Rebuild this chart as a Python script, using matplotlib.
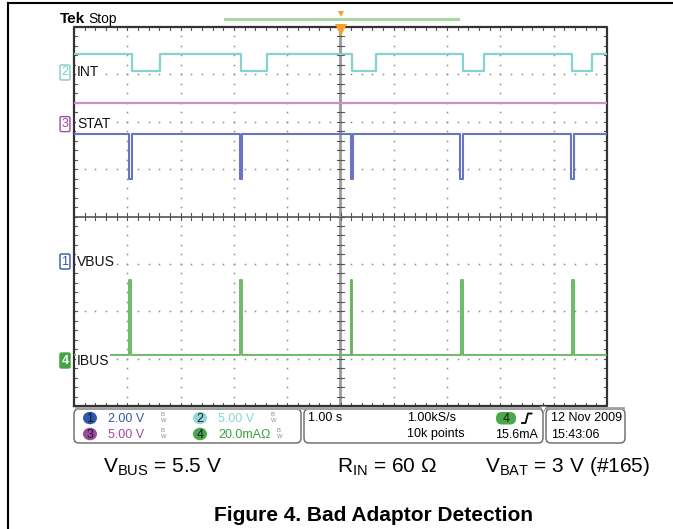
import numpy as np
import matplotlib
matplotlib.use('Agg')
import matplotlib.pyplot as plt
from matplotlib.patches import FancyBboxPatch, Ellipse
from matplotlib import font_manager

names = {f.name for f in font_manager.fontManager.ttflist}
scope_font = 'Liberation Sans Narrow' if 'Liberation Sans Narrow' in names else 'Liberation Sans'
plt.rcParams['font.family'] = ['Liberation Sans', 'DejaVu Sans']

# time axis: 1 s/div, 10 div, trigger at centre
t_start, t_end = -5.0, 5.0

# ch2 INT (screen divisions)
int_fall = [-3.92, -1.87, 0.22, 2.29, 4.35]
int_rise = [-3.38, -1.37, 0.67, 2.69, 4.72]
int_high, int_low = 7.44, 7.07

# ch3 STAT
stat_level = 6.40

# ch1 VBUS
vbus_dip = [-3.96, -1.89, 0.19, 2.25, 4.33]
vbus_dip_w = 0.05
vbus_high, vbus_low = 5.74, 4.79

# ch4 IBUS
ibus_spike = [-3.96, -1.89, 0.19, 2.26, 4.34]
ibus_spike_w = 0.035
ibus_base, ibus_peak = 1.07, 2.66

# channel ground markers (divisions) and labels
ch_ids = ['2', '3', '1', '4']
ch_names = ['INT', 'STAT', 'VBUS', 'IBUS']
ch_ground = [7.04, 5.95, 3.05, 0.96]

# info panel
ch_scale = ['2.00 V', '5.00 V', '5.00 V', '20.0mAΩ']
timebase = '1.00 s'
sample_rate = '1.00kS/s'
rec_len = '10k points'
trig_level = '15.6mA'
date_str = '12 Nov 2009'
time_str = '15:43:06'

C1, C2, C3, C4 = '#6a74c4', '#86d2d2', '#c890c8', '#62b45a'
ch_col = {'1': '#2f56a6', '2': '#7fcccc', '3': '#a04ca0', '4': '#45a445'}


def pulse(starts, ends, hi, lo):
    t, y = [t_start], [hi]
    for a, b in zip(starts, ends):
        t += [a, a, b, b]
        y += [hi, lo, lo, hi]
    t.append(t_end)
    y.append(hi)
    return t, y


fig = plt.figure(figsize=(6.73, 5.29), dpi=100)

# scope screen
ax = fig.add_axes([74 / 673, 1 - 406 / 529, 533 / 673, 379 / 529])
ax.set_xlim(t_start, t_end)
ax.set_ylim(0, 8)
ax.axis('off')

minor = np.arange(-5, 5.001, 0.2)
minor_y = np.arange(0, 8.001, 0.2)
for yy in range(1, 8):
    if yy != 4:
        ax.plot(minor, np.full_like(minor, yy), ls='none', marker='s', ms=1.1,
                color='#8a8a8a', mew=0)
for xx in range(-4, 5):
    if xx != 0:
        ax.plot(np.full_like(minor_y, xx), minor_y, ls='none', marker='s', ms=1.1,
                color='#8a8a8a', mew=0)
ax.axhline(4, color='#555555', lw=1.2)
ax.axvline(0, color='#a0a0a0', lw=2.2)
for m in minor:
    ax.plot([m, m], [3.93, 4.07], color='#555555', lw=0.8)
    ax.plot([m, m], [0, 0.07], color='#555555', lw=0.8)
    ax.plot([m, m], [7.93, 8], color='#555555', lw=0.8)
for m in minor_y:
    ax.plot([-0.07, 0.07], [m, m], color='#555555', lw=0.8)
    ax.plot([-5, -4.94], [m, m], color='#555555', lw=0.8)
    ax.plot([4.94, 5], [m, m], color='#555555', lw=0.8)
ax.plot([-5, 5, 5, -5, -5], [0, 0, 8, 8, 0], color='#333333', lw=1.6, clip_on=False)

t, y = pulse(int_fall, int_rise, int_high, int_low)
ax.plot(t, y, color=C2, lw=1.6)
ax.plot([t_start, t_end], [stat_level, stat_level], color=C3, lw=1.6)
t, y = pulse(vbus_dip, [d + vbus_dip_w for d in vbus_dip], vbus_high, vbus_low)
ax.plot(t, y, color=C1, lw=1.5)
t, y = pulse(ibus_spike, [s + ibus_spike_w for s in ibus_spike], ibus_base, ibus_peak)
ax.plot(t, y, color=C4, lw=1.3)

# overlay in pixel coordinates
ov = fig.add_axes([0, 0, 1, 1])
ov.set_xlim(0, 673)
ov.set_ylim(529, 0)
ov.axis('off')
ov.patch.set_visible(False)

ov.plot([8, 673], [3, 3], color='black', lw=1.5)
ov.plot([8, 8], [3, 529], color='black', lw=1.5)

ov.text(60, 19, 'Tek', family=scope_font, weight='bold', fontsize=11, va='center')
ov.text(88, 19.5, 'Stop', family=scope_font, fontsize=10, va='center')
ov.plot([225, 458], [19, 19], color='#a8d8a0', lw=2.2)
ov.plot(341, 14, marker='v', ms=5, color='#f5a030', mew=0)
ov.plot(341, 29.5, marker='v', ms=8, color='#f5a030', mew=0)
ov.plot([76, 623], [407.5, 407.5], color='#a0a0a0', lw=2)
ov.plot(543, 409, marker='v', ms=5, color='white', mec='#888888', mew=0.6)

for cid, nm, g in zip(ch_ids, ch_names, ch_ground):
    py = 27 + (8 - g) * 379 / 8
    col = ch_col[cid]
    if cid == '4':
        ov.text(65, py, cid, ha='center', va='center', fontsize=9, family=scope_font,
                color='white', weight='bold',
                bbox=dict(boxstyle='round,pad=0.12', fc=col, ec=col, lw=1))
    else:
        ov.text(65, py, cid, ha='center', va='center', fontsize=9, family=scope_font,
                color=col,
                bbox=dict(boxstyle='round,pad=0.12', fc='white', ec=col, lw=1))
    ov.text(77, py, nm, ha='left', va='center', fontsize=10, family=scope_font,
            color='#111111',
            bbox=dict(boxstyle='square,pad=0.05', fc='white', ec='none'))

# info panel boxes
for x0, x1 in [(74, 301), (304, 543), (546, 625)]:
    ov.add_patch(FancyBboxPatch((x0, 409), x1 - x0, 34,
                                boxstyle='round,pad=0,rounding_size=5',
                                fc='white', ec='#666666', lw=1))

fills = {'1': '#2d5aa8', '2': '#96d6d6', '3': '#9a4a9a', '4': '#4aa84a'}
vcols = {'1': '#3558a8', '2': '#8cd3d3', '3': '#a048a0', '4': '#3fa03f'}
slots = [('1', 90, 418), ('2', 200, 418), ('3', 90, 434), ('4', 200, 434)]
for (cid, cx, cy), sc in zip(slots, ch_scale):
    ov.add_patch(Ellipse((cx, cy), 14, 12.5, fc=fills[cid], ec='none'))
    ov.text(cx, cy + 0.5, cid, ha='center', va='center', fontsize=9,
            family=scope_font, color='#1a1a2a')
    ov.text(cx + 18, cy + 0.5, sc, ha='left', va='center', fontsize=9,
            family=scope_font, color=vcols[cid])
    bx = cx + 74 if cid != '4' else cx + 80
    ov.text(bx, cy, r'$^{\mathregular{B}}_{\mathregular{W}}$', fontsize=6,
            color='#8a8a8a', ha='center', va='center')

ov.text(308, 418, timebase, va='center', fontsize=9, family=scope_font)
ov.text(407, 418, sample_rate, va='center', fontsize=9, family=scope_font)
ov.text(407, 434.5, rec_len, va='center', fontsize=9, family=scope_font)
ov.add_patch(FancyBboxPatch((496, 412), 20, 12.5, boxstyle='round,pad=0,rounding_size=6',
                            fc='#4aa84a', ec='none'))
ov.text(506, 418.5, '4', ha='center', va='center', fontsize=9, family=scope_font,
        color='#1a1a1a')
ov.plot([522, 525.5, 528, 531.5], [423, 423, 413.5, 413.5], color='black', lw=1.3)
ov.text(538, 434.5, trig_level, ha='right', va='center', fontsize=9, family=scope_font)
ov.text(551, 418, date_str, va='center', fontsize=9, family=scope_font)
ov.text(551, 434.5, time_str, va='center', fontsize=9, family=scope_font)

# captions
ov.text(103, 472, r'V$_{\mathregular{BUS}}$ = 5.5 V', va='baseline', fontsize=15)
ov.text(337, 472, r'R$_{\mathregular{IN}}$ = 60 Ω', va='baseline', fontsize=15)
ov.text(485, 472, r'V$_{\mathregular{BAT}}$ = 3 V (#165)', va='baseline', fontsize=15)
ov.text(373, 521, 'Figure 4. Bad Adaptor Detection', ha='center', va='baseline',
        fontsize=15, weight='bold')

fig.savefig('out.png', dpi=100)
